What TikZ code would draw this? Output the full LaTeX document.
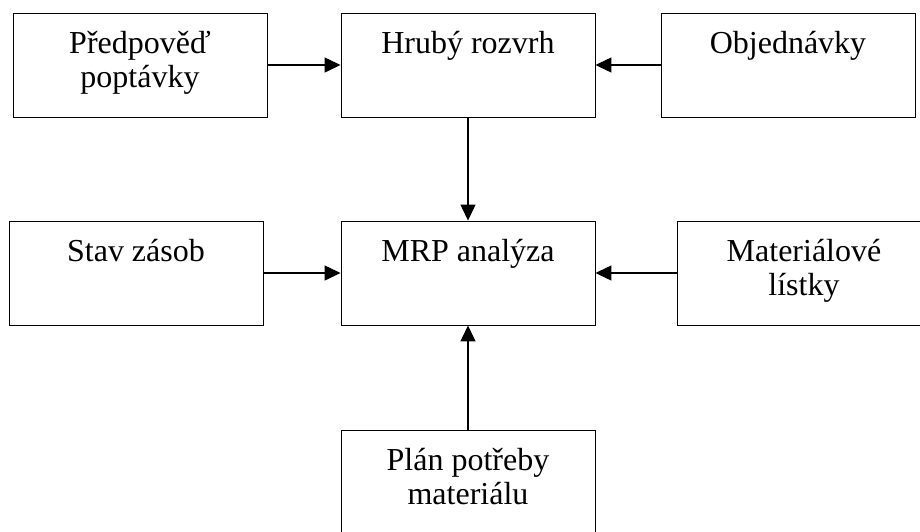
\documentclass[tikz,border=0pt]{standalone}
\usepackage{fontspec}
\setmainfont{Liberation Serif}
\usepackage{tikz}
\usetikzlibrary{arrows.meta, positioning}

\newcommand{\blokText}[1]{\parbox[c][104pt][t]{254pt}{\centering\rule{0pt}{40pt}#1}}
\tikzset{
  blok/.style={draw, line width=0.9pt, inner sep=0pt, font=\fontsize{32}{34}\selectfont},
  sipka/.style={line width=1.3pt, -{Triangle[length=16pt, width=15pt]}}
}

\begin{document}
\begin{tikzpicture}[x=1pt, y=-1pt]
\clip (0,0) rectangle (920,531);
\node[blok] (predpoved) at (140,65) {\blokText{Předpověď\\poptávky}};
\node[blok] (hruby) at (468,65) {\blokText{Hrubý rozvrh}};
\node[blok] (objednavky) at (788,65) {\blokText{Objednávky}};
\node[blok] (zasoby) at (136,273) {\blokText{Stav zásob}};
\node[blok] (mrp) at (468,273) {\blokText{MRP analýza}};
\node[blok] (listky) at (804,273) {\blokText{Materiálové\\lístky}};
\node[blok] (plan) at (468,482) {\blokText{Plán potřeby\\materiálu}};
\draw[sipka] (predpoved.east) -- (hruby.west);
\draw[sipka] (objednavky.west) -- (hruby.east);
\draw[sipka] (hruby.south) -- (mrp.north);
\draw[sipka] (zasoby.east) -- (mrp.west);
\draw[sipka] (listky.west) -- (mrp.east);
\draw[sipka] (plan.north) -- (mrp.south);
\end{tikzpicture}
\end{document}
